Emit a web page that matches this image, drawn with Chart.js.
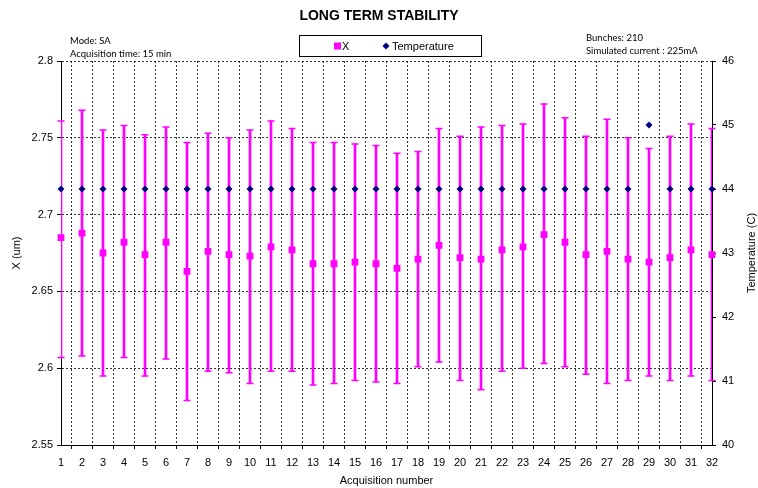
<!DOCTYPE html>
<html>
<head>
<meta charset="utf-8">
<script src="https://cdn.jsdelivr.net/npm/chart.js@4/dist/chart.umd.min.js"></script>
<style>
  html, body { margin: 0; padding: 0; background: #fff; }
  #wrap { width: 758px; height: 488px; }
</style>
</head>
<body>
<div id="wrap"><canvas id="c" width="758" height="488"></canvas></div>
<script>
// Acquisition index (category axis)
const acquisitions = ['1','2','3','4','5','6','7','8','9','10','11','12','13','14','15','16',
                      '17','18','19','20','21','22','23','24','25','26','27','28','29','30','31','32'];

// Mean beam position X (um) for each acquisition
const xMean = [2.685, 2.688, 2.675, 2.682, 2.674, 2.682, 2.663, 2.676, 2.674, 2.673, 2.679, 2.677,
               2.668, 2.668, 2.669, 2.668, 2.665, 2.671, 2.680, 2.672, 2.671, 2.677, 2.679, 2.687,
               2.682, 2.674, 2.676, 2.671, 2.669, 2.672, 2.677, 2.674];

// Upper / lower extent of the spread for each acquisition
const xHigh = [2.761, 2.768, 2.755, 2.758, 2.752, 2.757, 2.747, 2.753, 2.750, 2.755, 2.761, 2.756,
               2.747, 2.747, 2.746, 2.745, 2.740, 2.741, 2.756, 2.751, 2.757, 2.758, 2.759, 2.772,
               2.763, 2.751, 2.762, 2.750, 2.743, 2.751, 2.759, 2.756];
const xLow  = [2.607, 2.608, 2.595, 2.607, 2.595, 2.606, 2.579, 2.598, 2.597, 2.590, 2.598, 2.598,
               2.589, 2.590, 2.592, 2.591, 2.590, 2.601, 2.604, 2.592, 2.586, 2.598, 2.600, 2.603,
               2.601, 2.596, 2.590, 2.592, 2.595, 2.592, 2.595, 2.592];

// Temperature (C)
const temperature = [44, 44, 44, 44, 44, 44, 44, 44, 44, 44, 44, 44, 44, 44, 44, 44,
                     44, 44, 44, 44, 44, 44, 44, 44, 44, 44, 44, 44, 45, 44, 44, 44];

// Axis tick values
const xAxisTicks = [2.55, 2.6, 2.65, 2.7, 2.75, 2.8];
const tempAxisTicks = [40, 41, 42, 43, 44, 45, 46];

// Text blocks
const chartTitle = 'LONG TERM STABILITY';
const leftNotes = ['Mode: SA', 'Acquisition time: 15 min'];
const rightNotes = ['Bunches: 210', 'Simulated current : 225mA'];
const tempAxisTitle = 'Temperature (C)';

const MAGENTA = '#FF00FF';
const NAVY = '#000080';
const AXIS_FONT = { family: 'Liberation Sans, Arial, sans-serif', size: 11 };
const GRID_COLOR = 'rgba(0,0,0,0.8)';

const errorStems = xLow.map((lo, i) => [lo, xHigh[i]]);

// Draws the boxed legend, side notes and the right-hand axis title
const decorations = {
  id: 'decorations',
  afterDraw(chart) {
    const ctx = chart.ctx;
    ctx.save();

    // legend box
    ctx.fillStyle = '#fff';
    ctx.fillRect(299.5, 35.5, 182, 21);
    ctx.strokeStyle = '#000';
    ctx.lineWidth = 1;
    ctx.strokeRect(299.5, 35.5, 182, 21);

    const ds = chart.data.datasets;
    ctx.font = '11px "Liberation Sans", Arial, sans-serif';
    ctx.textBaseline = 'middle';
    ctx.textAlign = 'left';

    ctx.fillStyle = MAGENTA;
    ctx.fillRect(334, 42.5, 7, 7);
    ctx.fillStyle = '#000';
    ctx.fillText(ds[0].label, 342, 46.5);

    ctx.fillStyle = NAVY;
    ctx.beginPath();
    ctx.moveTo(386, 42.5);
    ctx.lineTo(389.5, 46);
    ctx.lineTo(386, 49.5);
    ctx.lineTo(382.5, 46);
    ctx.closePath();
    ctx.fill();
    ctx.fillStyle = '#000';
    ctx.fillText(ds[1].label, 392, 46.5);

    // notes
    ctx.font = '9.5px Lato, "Open Sans", sans-serif';
    ctx.fillStyle = '#000';
    ctx.fillText(leftNotes[0], 70, 41);
    ctx.fillText(leftNotes[1], 70, 54);
    ctx.fillText(rightNotes[0], 586, 37.5);
    ctx.fillText(rightNotes[1], 586, 51);

    // right axis title, reading bottom to top
    const area = chart.chartArea;
    ctx.font = '11px "Liberation Sans", Arial, sans-serif';
    ctx.translate(752, (area.top + area.bottom) / 2);
    ctx.rotate(-Math.PI / 2);
    ctx.textAlign = 'center';
    ctx.fillText(tempAxisTitle, 0, 0);

    ctx.restore();
  }
};

new Chart(document.getElementById('c'), {
  type: 'bar',
  data: {
    labels: acquisitions,
    datasets: [
      {
        type: 'line', label: 'X', data: xMean, yAxisID: 'y', order: 0,
        showLine: false, pointStyle: 'rect', pointRadius: 4.8,
        backgroundColor: MAGENTA, borderColor: MAGENTA, borderWidth: 0
      },
      {
        type: 'line', label: 'Temperature', data: temperature, yAxisID: 'y2', order: 1,
        showLine: false, pointStyle: 'rectRot', pointRadius: 3.5,
        backgroundColor: NAVY, borderColor: NAVY, borderWidth: 0
      },
      {
        type: 'line', label: 'X high', data: xHigh, yAxisID: 'y', order: 2,
        showLine: false, pointStyle: 'line', pointRadius: 3.5,
        borderColor: MAGENTA, borderWidth: 1.5
      },
      {
        type: 'line', label: 'X low', data: xLow, yAxisID: 'y', order: 2,
        showLine: false, pointStyle: 'line', pointRadius: 3.5,
        borderColor: MAGENTA, borderWidth: 1.5
      },
      {
        type: 'bar', label: 'X spread', data: errorStems, yAxisID: 'y', order: 3,
        backgroundColor: MAGENTA, borderWidth: 0, barThickness: 2
      }
    ]
  },
  options: {
    responsive: false,
    animation: false,
    devicePixelRatio: 1,
    layout: { padding: { left: 0, right: 0, top: 0, bottom: 0 } },
    plugins: {
      legend: { display: false },
      tooltip: { enabled: false },
      title: {
        display: true,
        text: chartTitle,
        color: '#000',
        font: { family: 'Liberation Sans, Arial, sans-serif', size: 14, weight: 'bold' },
        padding: { top: 8, bottom: 36.2 }
      }
    },
    scales: {
      x: {
        type: 'category',
        offset: false,
        afterFit: s => { s.height = 43; },
        grid: { color: GRID_COLOR, tickLength: 4, tickColor: '#000', tickBorderDash: [] },
        border: { display: true, color: '#000', width: 1, dash: [2, 2] },
        ticks: { color: '#000', font: AXIS_FONT, autoSkip: false, maxRotation: 0, padding: 7 },
        title: { display: true, text: 'Acquisition number', color: '#000', font: AXIS_FONT, padding: { top: 0, bottom: 0 } }
      },
      y: {
        position: 'left',
        min: 2.55, max: 2.8,
        afterFit: s => { s.width = 61; },
        afterBuildTicks: s => { s.ticks = xAxisTicks.map(v => ({ value: v })); },
        grid: { color: GRID_COLOR, tickLength: 4, tickColor: '#000', tickBorderDash: [] },
        border: { display: true, color: '#000', width: 1, dash: [2, 2] },
        ticks: { color: '#000', font: AXIS_FONT, padding: 4, callback: v => String(v) },
        title: { display: true, text: 'X (um)', color: '#000', font: AXIS_FONT, padding: { top: 10, bottom: 0 } }
      },
      y2: {
        position: 'right',
        min: 40, max: 46,
        afterFit: s => { s.width = 46; },
        afterBuildTicks: s => { s.ticks = tempAxisTicks.map(v => ({ value: v })); },
        grid: { drawOnChartArea: false, tickLength: 4, tickColor: '#000', color: '#000' },
        border: { display: true, color: '#000', width: 1 },
        ticks: { color: '#000', font: AXIS_FONT, padding: 6, callback: v => String(v) }
      }
    }
  },
  plugins: [decorations]
});
</script>
</body>
</html>
